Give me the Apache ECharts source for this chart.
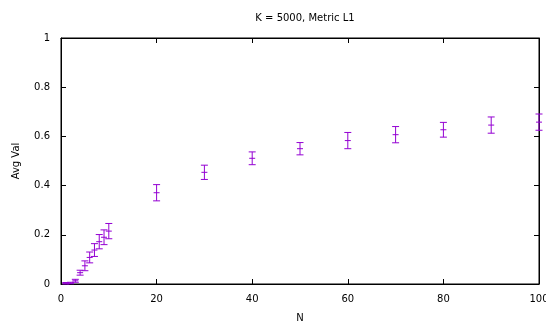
<!DOCTYPE html>
<html>
<head>
<meta charset="utf-8">
<script src="https://cdn.jsdelivr.net/npm/echarts@6/dist/echarts.min.js"></script>
<style>
  html, body { margin: 0; padding: 0; background: #fff; }
  #main { width: 546px; height: 323px; }
</style>
</head>
<body>
<div id="main"></div>
<script>
// data
const nValues = [1, 2, 3, 4, 5, 6, 7, 8, 9, 10, 20, 30, 40, 50, 60, 70, 80, 90, 100]
const avgVal = [0.003, 0.004, 0.013, 0.046, 0.074, 0.108, 0.138, 0.172, 0.19, 0.215, 0.371, 0.454, 0.511, 0.55, 0.583, 0.607, 0.627, 0.646, 0.658]
const errVal = [0.003, 0.003, 0.006, 0.01, 0.02, 0.022, 0.026, 0.029, 0.03, 0.031, 0.033, 0.029, 0.026, 0.025, 0.033, 0.033, 0.03, 0.033, 0.033]

const purple = '#9400d3'
const fontName = 'DejaVu Sans'

const chart = echarts.init(document.getElementById('main'))

const points = nValues.map((n, i) => [n, avgVal[i], avgVal[i] - errVal[i], avgVal[i] + errVal[i]])

// 误差棒 + 十字点
function renderErr (params, api) {
  const x = api.value(0)
  const c = api.coord([x, api.value(1)])
  const lo = api.coord([x, api.value(2)])
  const hi = api.coord([x, api.value(3)])
  const cap = 3.5
  const pl = 3
  const st = { stroke: purple, lineWidth: 1 }
  return {
    type: 'group',
    children: [
      { type: 'line', shape: { x1: lo[0], y1: lo[1], x2: hi[0], y2: hi[1] }, style: st },
      { type: 'line', shape: { x1: lo[0] - cap, y1: lo[1], x2: lo[0] + cap, y2: lo[1] }, style: st },
      { type: 'line', shape: { x1: hi[0] - cap, y1: hi[1], x2: hi[0] + cap, y2: hi[1] }, style: st },
      { type: 'line', shape: { x1: c[0] - pl, y1: c[1], x2: c[0] + pl, y2: c[1] }, style: st }
    ]
  }
}

const tickStyle = { show: true, inside: true, length: 5, lineStyle: { color: '#000', width: 1 } }
const lineStyle = { show: true, onZero: false, lineStyle: { color: '#000', width: 1 } }

const option = {
  animation: false,
  textStyle: { fontFamily: fontName },
  title: {
    text: 'K = 5000, Metric L1',
    left: 300,
    top: 8,
    textAlign: 'center',
    textStyle: { fontFamily: fontName, fontSize: 10, fontWeight: 'normal', color: '#000' }
  },
  grid: {
    left: 61,
    right: 7,
    top: 38,
    bottom: 39,
    outerBoundsMode: 'none',
    containLabel: false,
    show: true,
    borderColor: '#000',
    borderWidth: 1
  },
  xAxis: [
    {
      type: 'value',
      min: 0,
      max: 100,
      interval: 20,
      name: 'N',
      nameLocation: 'middle',
      nameGap: 29,
      nameTextStyle: { fontFamily: fontName, fontSize: 10, color: '#000' },
      axisLine: lineStyle,
      axisTick: tickStyle,
      splitLine: { show: false },
      axisLabel: { fontFamily: fontName, fontSize: 10, color: '#000', margin: 10 }
    },
    {
      type: 'value',
      position: 'top',
      min: 0,
      max: 100,
      interval: 20,
      axisLine: lineStyle,
      axisTick: tickStyle,
      splitLine: { show: false },
      axisLabel: { show: false }
    }
  ],
  yAxis: [
    {
      type: 'value',
      min: 0,
      max: 1,
      interval: 0.2,
      name: 'Avg Val',
      nameLocation: 'middle',
      nameGap: 40,
      nameTextStyle: { fontFamily: fontName, fontSize: 10, color: '#000' },
      axisLine: lineStyle,
      axisTick: tickStyle,
      splitLine: { show: false },
      axisLabel: { fontFamily: fontName, fontSize: 10, color: '#000', margin: 11 }
    },
    {
      type: 'value',
      position: 'right',
      min: 0,
      max: 1,
      interval: 0.2,
      axisLine: lineStyle,
      axisTick: tickStyle,
      splitLine: { show: false },
      axisLabel: { show: false }
    }
  ],
  series: [
    {
      type: 'custom',
      name: 'err',
      renderItem: renderErr,
      encode: { x: 0, y: [1, 2, 3] },
      data: points,
      clip: false,
      z: 10
    },
    {
      // 空系列，只为让上/右镜像坐标轴显示
      type: 'scatter',
      xAxisIndex: 1,
      yAxisIndex: 1,
      data: [],
      silent: true
    }
  ]
}
chart.setOption(option)
</script>
</body>
</html>
